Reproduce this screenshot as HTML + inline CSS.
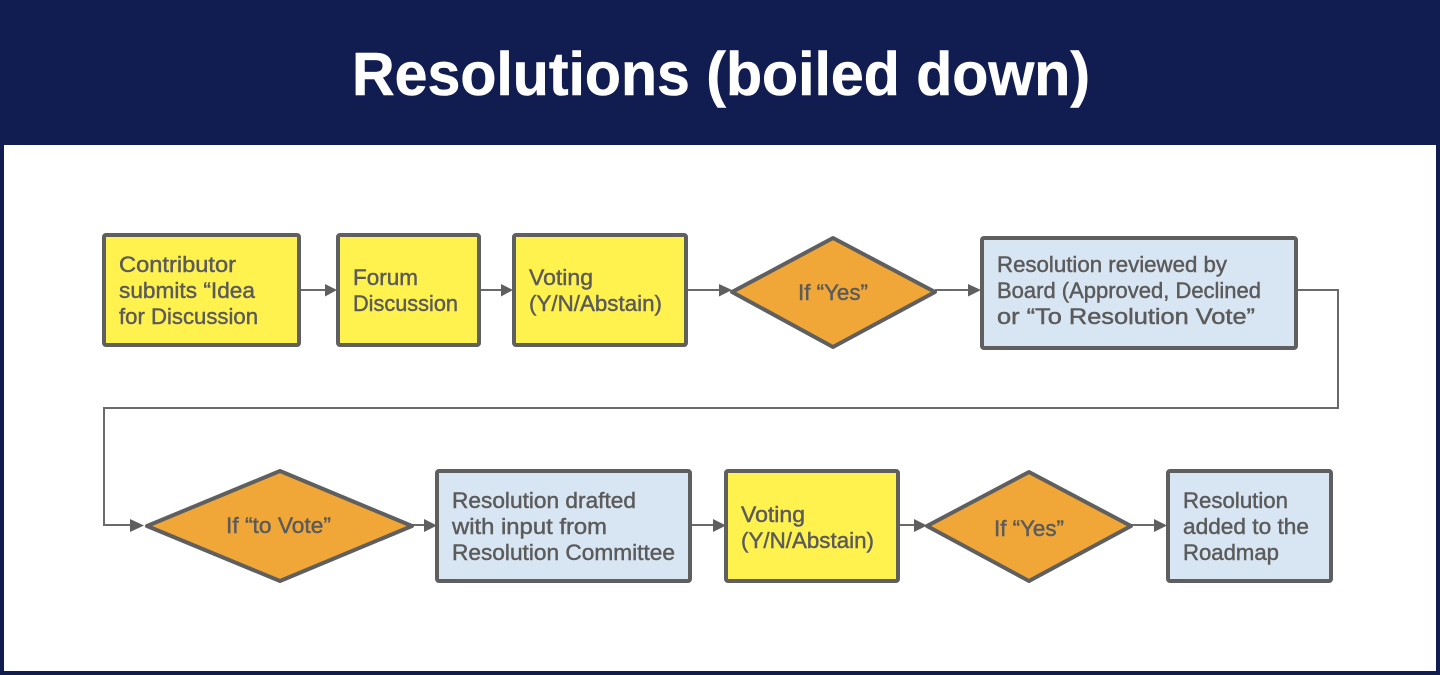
<!DOCTYPE html>
<html>
<head>
<meta charset="utf-8">
<style>
html,body{margin:0;padding:0;background:#111c50;}
svg{display:block;}
text{font-family:"Liberation Sans",sans-serif;fill:#5b5b5b;font-size:22px;stroke:#5b5b5b;stroke-width:.45px;}
.t{font-size:61px;font-weight:bold;fill:#fff;stroke:#fff;stroke-width:.6px;}
.b{fill:#fff24f;stroke:#5f5f5f;stroke-width:4;}
.l{fill:#d8e5f2;stroke:#5f5f5f;stroke-width:4;}
.d{fill:#f1a738;stroke:#5f5f5f;stroke-width:4;stroke-linejoin:round;}
.c{fill:none;stroke:#6a6a6a;stroke-width:2;}
.a{fill:#5f5f5f;stroke:none;}
</style>
</head>
<body>
<svg width="1440" height="675" viewBox="0 0 1440 675" xmlns="http://www.w3.org/2000/svg">
<rect width="1440" height="675" fill="#111c50"/>
<rect x="4" y="145" width="1432" height="526" fill="#fff"/>
<text class="t" x="352" y="95" textLength="738" lengthAdjust="spacingAndGlyphs">Resolutions (boiled down)</text>

<!-- connectors -->
<path class="c" d="M300 290H328M480 290H502M687 290H720M935 290H970M1297 290H1338V408H104V525H132M412 525H426M691 525H714M899 525H916M1131 525H1156"/>

<!-- shapes -->
<rect class="b" x="104" y="235" width="195" height="110" rx="2"/>
<rect class="b" x="338" y="235" width="141" height="110" rx="2"/>
<rect class="b" x="514" y="235" width="172" height="110" rx="2"/>
<path class="d" d="M833 238L935 292L833 347L732 292Z"/>
<rect class="l" x="982" y="238" width="314" height="110" rx="2"/>
<path class="d" d="M280 471L412 526L280 581L147 526Z"/>
<rect class="l" x="437" y="471" width="253" height="110" rx="2"/>
<rect class="b" x="726" y="471" width="172" height="110" rx="2"/>
<path class="d" d="M1029 472L1131 526L1029 581L927 526Z"/>
<rect class="l" x="1168" y="471" width="163" height="110" rx="2"/>

<!-- arrowheads -->
<path class="a" d="M325 284L337 290L325 296.500ZM501 284L513 290L501 296.500ZM719 284L732 290L719 296.500ZM968 284L981 290L968 296.500ZM130 519L144 525.500L130 532ZM424 519L437 525.500L424 532ZM713 519L726 525.500L713 532ZM914 519L927 525.500L914 532ZM1154 519L1167 525.500L1154 532Z"/>

<!-- labels -->
<text x="119" y="272" textLength="117" lengthAdjust="spacingAndGlyphs">Contributor</text>
<text x="119" y="298" textLength="136" lengthAdjust="spacingAndGlyphs">submits “Idea</text>
<text x="119" y="324" textLength="139" lengthAdjust="spacingAndGlyphs">for Discussion</text>
<text x="353" y="285" textLength="65" lengthAdjust="spacingAndGlyphs">Forum</text>
<text x="353" y="311" textLength="105" lengthAdjust="spacingAndGlyphs">Discussion</text>
<text x="529" y="285" textLength="64" lengthAdjust="spacingAndGlyphs">Voting</text>
<text x="529" y="311" textLength="133" lengthAdjust="spacingAndGlyphs">(Y/N/Abstain)</text>
<text x="798" y="300" textLength="70" lengthAdjust="spacingAndGlyphs">If “Yes”</text>
<text x="997" y="272" textLength="230" lengthAdjust="spacingAndGlyphs">Resolution reviewed by</text>
<text x="997" y="298" textLength="264" lengthAdjust="spacingAndGlyphs">Board (Approved, Declined</text>
<text x="997" y="324" textLength="258" lengthAdjust="spacingAndGlyphs">or “To Resolution Vote”</text>
<text x="226" y="533" textLength="105" lengthAdjust="spacingAndGlyphs">If “to Vote”</text>
<text x="452" y="508" textLength="184" lengthAdjust="spacingAndGlyphs">Resolution drafted</text>
<text x="452" y="534" textLength="155" lengthAdjust="spacingAndGlyphs">with input from</text>
<text x="452" y="560" textLength="223" lengthAdjust="spacingAndGlyphs">Resolution Committee</text>
<text x="741" y="522" textLength="64" lengthAdjust="spacingAndGlyphs">Voting</text>
<text x="741" y="548" textLength="133" lengthAdjust="spacingAndGlyphs">(Y/N/Abstain)</text>
<text x="994" y="536" textLength="70" lengthAdjust="spacingAndGlyphs">If “Yes”</text>
<text x="1183" y="508" textLength="105" lengthAdjust="spacingAndGlyphs">Resolution</text>
<text x="1183" y="534" textLength="126" lengthAdjust="spacingAndGlyphs">added to the</text>
<text x="1183" y="560" textLength="96" lengthAdjust="spacingAndGlyphs">Roadmap</text>
</svg>
</body>
</html>
